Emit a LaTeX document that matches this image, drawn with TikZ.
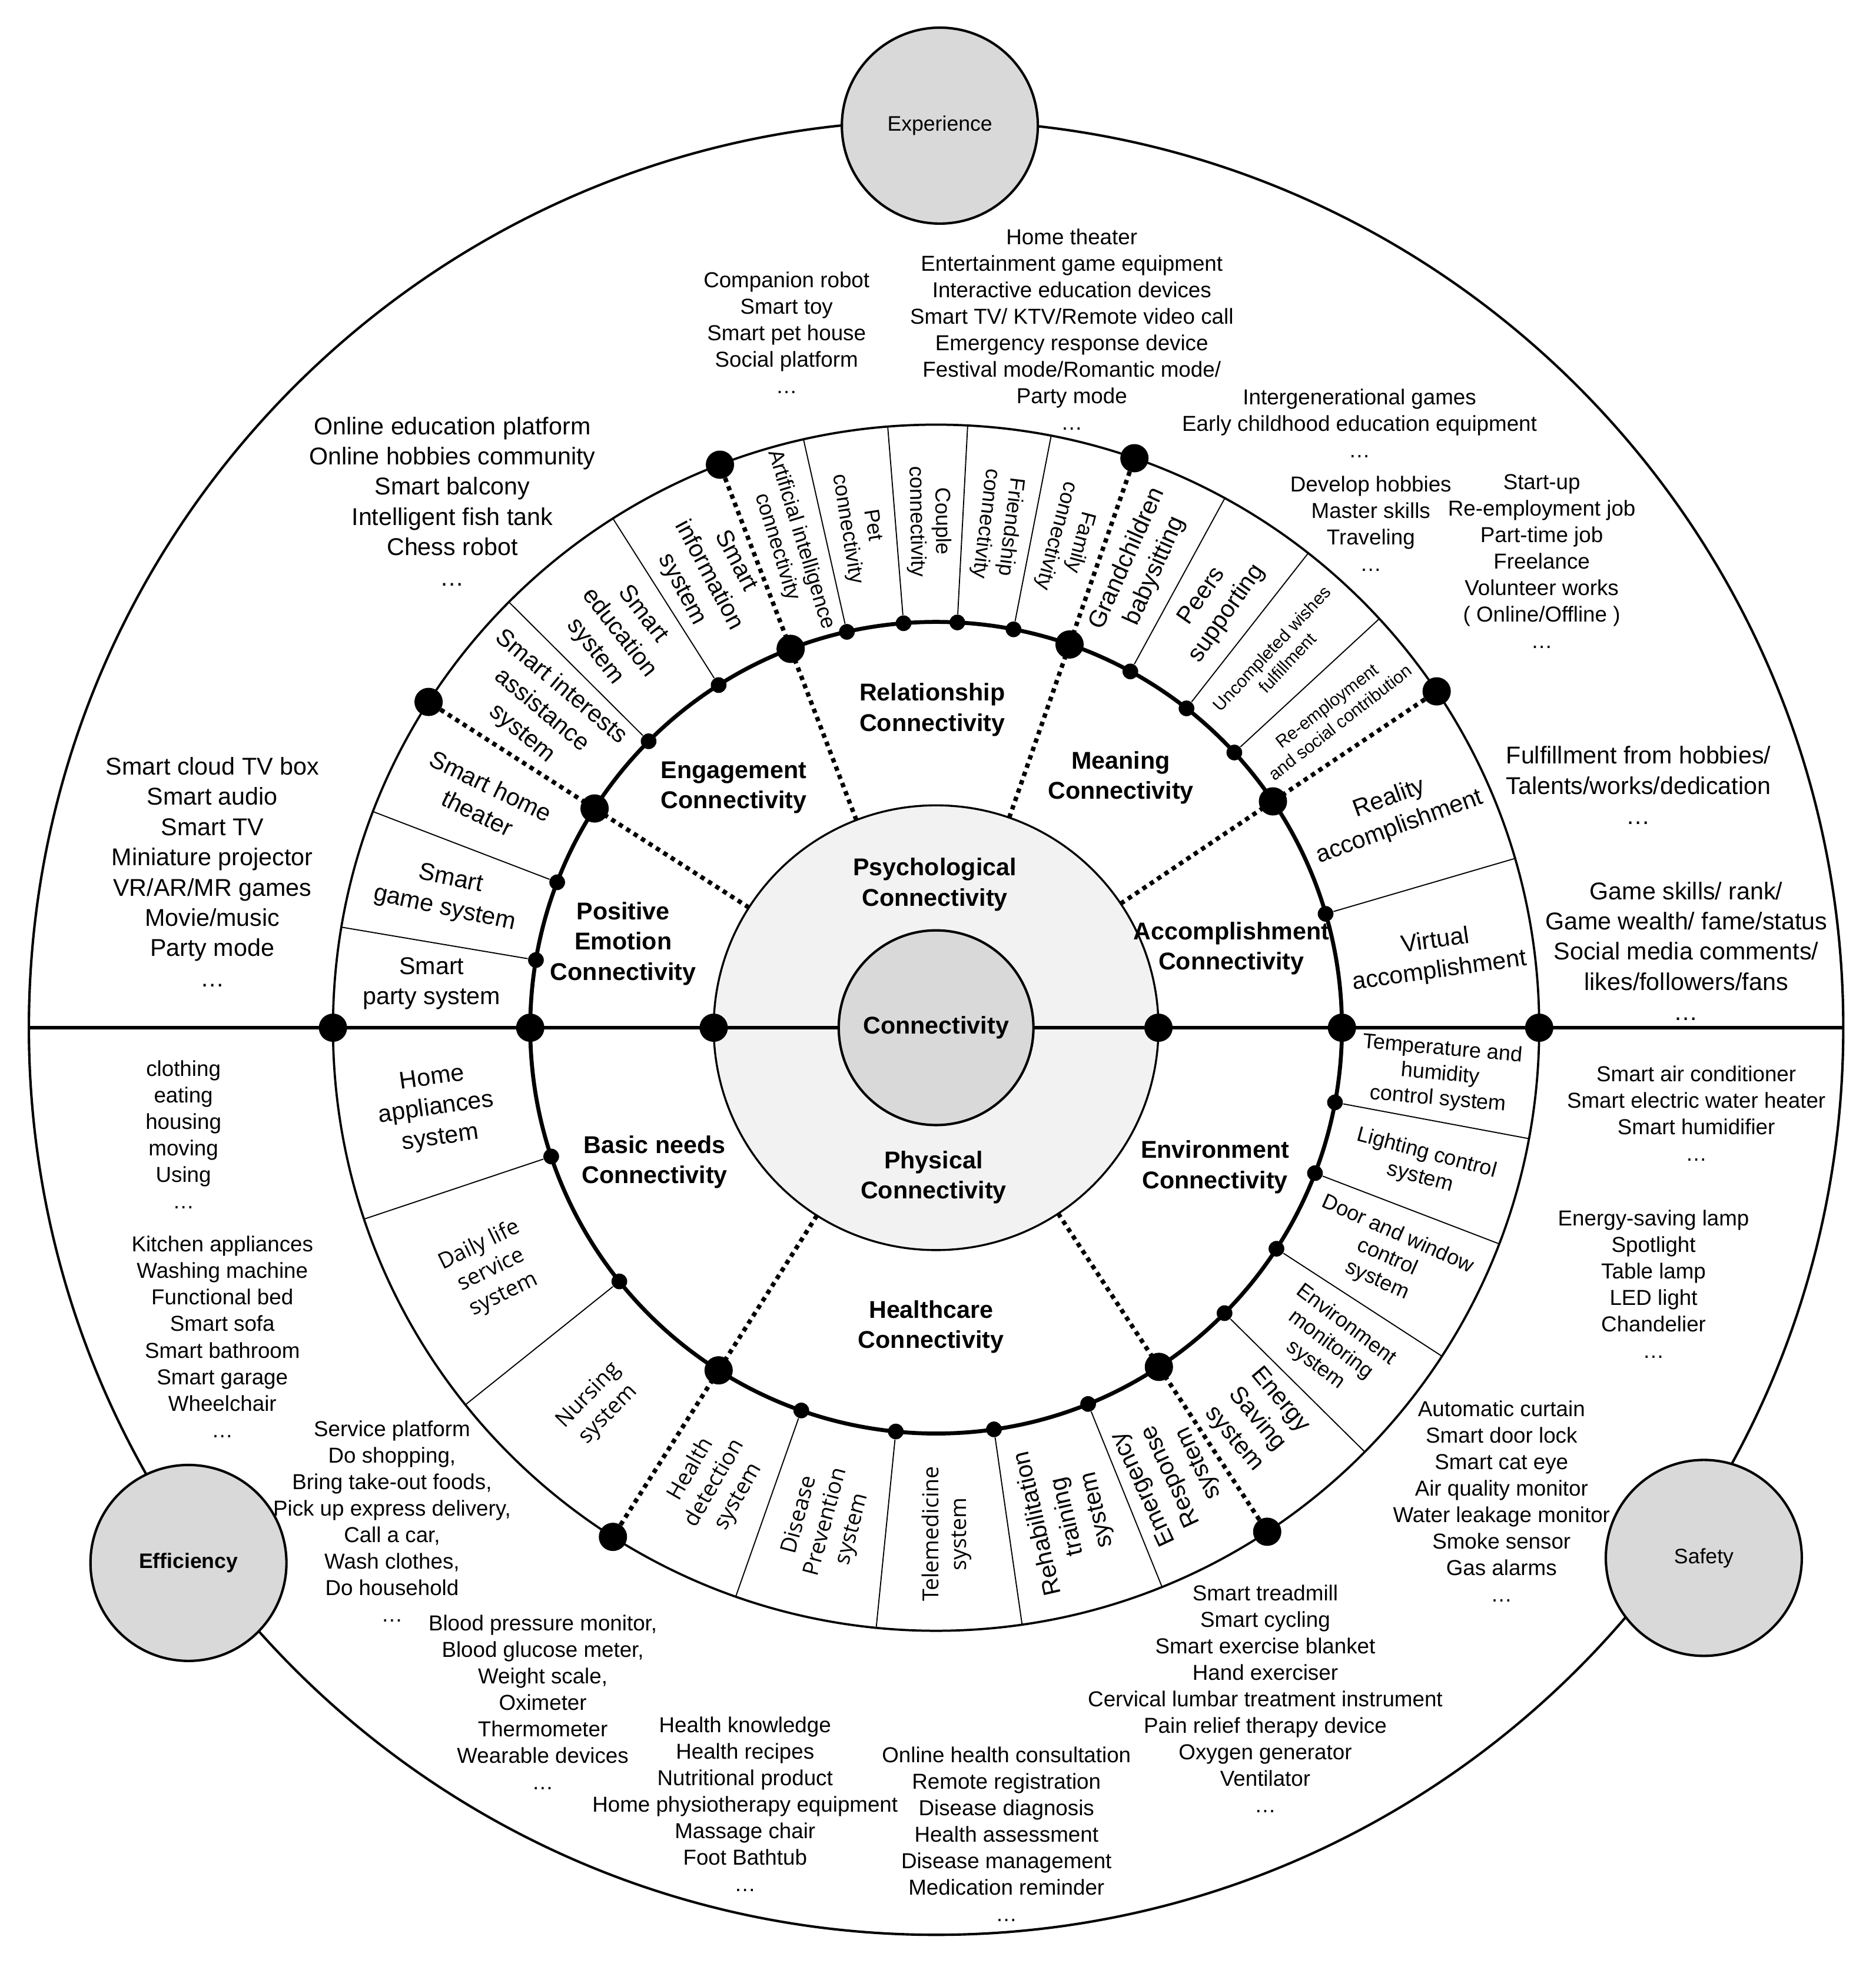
\documentclass[tikz,border=0pt]{standalone}
\usepackage{fontspec}
\setmainfont{Liberation Sans}
\newfontfamily\thinfamily{Open Sans}
\newcommand{\fbig}{\fontsize{11}{13.7}\selectfont}
\newcommand{\fsmall}{\fontsize{9.8}{12}\selectfont}
\newcommand{\fmid}{\fontsize{9.6}{11.4}\selectfont}
\newcommand{\ftiny}{\fontsize{8}{9.6}\selectfont}
\newcommand{\fthin}{\thinfamily\fontsize{10}{12.4}\selectfont}
\definecolor{coregray}{HTML}{D9D9D9}
\definecolor{psygray}{HTML}{F2F2F2}

\begin{document}
\begin{tikzpicture}[x=0.02cm, y=0.02cm,
	bigdot/.style={circle, fill=black, inner sep=0pt, minimum size=0.45cm},
	smalldot/.style={circle, fill=black, inner sep=0pt, minimum size=0.25cm},
	dotline/.style={line width=2pt, dash pattern=on 2pt off 2pt},
	sepline/.style={line width=0.5pt},
	band/.style={align=center, inner sep=0pt},
	list/.style={align=center, inner sep=0pt, font=\fsmall},
	biglist/.style={align=center, inner sep=0pt, font=\fbig},
	hub/.style={align=center, inner sep=0pt, font=\fbig\bfseries},
	pillar/.style={circle, draw, line width=1.1pt, fill=coregray,
		minimum size=3.12cm, font=\fontsize{9.5}{11}\selectfont}]
\useasboundingbox (-745,-750) rectangle (748,818);

% Outer circle
\draw[line width=1.1pt] (0,0) circle[radius=722];

% Psychological / Physical disk
\draw[line width=0.9pt, fill=psygray] (0,0) circle[radius=177];

% System band and connectivity ring
\draw[line width=1pt] (0,0) circle[radius=480];
\draw[line width=1.8pt] (0,0) circle[radius=323];

% Separators between systems
\foreach \a [count=\i] in {170.4,159,135.1,122.4,102.7,94.6,87,79,61.4,51.9,42.7,16.3,
	198.5,218.7,250.6,264.3,278.2,292,315.3,327,339,349.4}
{
	\node[smalldot] (sep-\i) at (\a:323) {};
	\coordinate (sepo-\i) at (\a:480);
	\draw[sepline] (sep-\i) -- (sepo-\i);
}

% Dotted division lines
\foreach \a [count=\i] in {147.3,111,70.8,33.9,237.6,303.3}
{
	\coordinate (div-\i-in) at (\a:177);
	\coordinate (div-\i-out) at (\a:480);
	\draw[dotline] (div-\i-in) -- (div-\i-out);
}

% Horizontal axis
\coordinate (axis-w) at (180:722);
\coordinate (axis-e) at (0:722);
\draw[line width=1.4pt] (axis-w) -- (axis-e);

% Core
\node[circle, draw, line width=1.1pt, fill=coregray, minimum size=3.1cm,
	font=\fbig\bfseries] (core) at (0,0) {Connectivity};

% Big dots
\foreach \a [count=\i] in {147.3,111,70.8,33.9,237.6,303.3}
{
	\node[bigdot] (ring-\i) at (\a:323) {};
	\node[bigdot] (rim-\i) at (\a:480) {};
}
\foreach \a in {0,180}
{
	\foreach \r in {177,323,480}
	{
		\node[bigdot] (axis-\a-\r) at (\a:\r) {};
	}
}

% Systems in the band
\foreach \a/\r/\f/\t [count=\i] in {
	175.0/0/\fbig/{Smart\\party system},
	164.7/-12/\fbig/{Smart\\game system},
	153.2/-26/\fbig/{Smart home\\theater},
	141.2/-40/\fbig/{Smart interests\\assistance\\system},
	128.8/-52/\fbig/{Smart\\education\\system},
	116.7/-62/\fbig/{Smart\\information\\system},
	106.9/-73/\fmid/{Artificial intelligence\\connectivity},
	98.7/-81/\fmid/{Pet\\connectivity},
	90.8/-89/\fmid/{Couple\\connectivity},
	83/-97/\fmid/{Friendship\\connectivity},
	74.9/-105/\fmid/{Family\\connectivity},
	66.1/66/\fbig/{Grandchildren\\babysitting},
	56.6/55/\fbig/{Peers\\supporting},
	47.3/47/\ftiny/{Uncompleted wishes\\fulfillment},
	38.3/38/\ftiny/{Re-employment\\and social contribution},
	25.1/20/\fbig/{Reality\\accomplishment},
	8.1/8/\fbig/{Virtual\\accomplishment},
	189.2/8/\fbig/{Home\\appliances\\system},
	208.6/26/\fthin/{Daily life\\service\\system},
	228.2/46/\fthin/{Nursing\\system},
	244.1/60/\fthin/{Health\\detection\\system},
	257.5/75/\fthin/{Disease\\Prevention\\system},
	271.2/90/\fthin/{Telemedicine\\system},
	285.1/103/\fbig/{Rehabilitation\\training\\system},
	297.7/115/\fbig/{Emergency\\Response\\system},
	309.3/-50/\fbig/{Energy\\Saving\\system},
	321.2/-37/\fmid/{Environment\\monitoring\\system},
	333/-24/\fmid/{Door and window\\control\\system},
	344.2/-15/\fmid/{Lighting control\\system},
	354.7/-5/\fmid/{Temperature and\\humidity\\control system}}
{
	\node[band, font=\f, rotate=\r] (sys-\i) at (\a:403) {\t};
}

% Connectivity labels
\node[hub] (psy) at (-1,114) {Psychological\\Connectivity};
\node[hub] (phy) at (-2,-119) {Physical\\Connectivity};
\node[hub] (posemo) at (-249,67) {Positive\\Emotion\\Connectivity};
\node[hub] (engage) at (-161,191) {Engagement\\Connectivity};
\node[hub] (relation) at (-3,253) {Relationship\\Connectivity};
\node[hub] (meaning) at (147,199) {Meaning\\Connectivity};
\node[hub] (accomp) at (235,63) {Accomplishment\\Connectivity};
\node[hub] (basic) at (-224,-107) {Basic needs\\Connectivity};
\node[hub] (health) at (-4,-238) {Healthcare\\Connectivity};
\node[hub] (environ) at (222,-111) {Environment\\Connectivity};

% Pillars
\node[pillar] (experience) at (3,718) {Experience};
\node[pillar, font=\fontsize{9.5}{11}\selectfont\bfseries] (efficiency) at (-595,-426) {Efficiency};
\node[pillar] (safety) at (611,-422) {Safety};

% Device lists
\node[list] (lst-robot) at (-119,553) {Companion robot\\Smart toy\\Smart pet house\\Social platform\\…};
\node[list] (lst-theater) at (108,556) {Home theater\\Entertainment game equipment\\Interactive education devices\\Smart TV/ KTV/Remote video call\\Emergency response device\\Festival mode/Romantic mode/\\Party mode\\…};
\node[list] (lst-games) at (337,481) {Intergenerational games\\Early childhood education equipment\\…};
\node[list] (lst-hobby) at (346,401) {Develop hobbies\\Master skills\\Traveling\\…};
\node[list] (lst-job) at (482,371) {Start-up\\Re-employment job\\Part-time job\\Freelance\\Volunteer works\\( Online/Offline )\\…};
\node[biglist] (lst-fulfil) at (559,193) {Fulfillment from hobbies/\\Talents/works/dedication\\…};
\node[biglist] (lst-virtual) at (597,61) {Game skills/ rank/\\Game wealth/ fame/status\\Social media comments/\\likes/followers/fans\\…};
\node[biglist] (lst-online) at (-385,419) {Online education platform\\Online hobbies community\\Smart balcony\\Intelligent fish tank\\Chess robot\\…};
\node[biglist] (lst-media) at (-576,124) {Smart cloud TV box\\Smart audio\\Smart TV\\Miniature projector\\VR/AR/MR games\\Movie/music\\Party mode\\…};
\node[list] (lst-needs) at (-599,-85) {clothing\\eating\\housing\\moving\\Using\\…};
\node[list] (lst-home) at (-568,-246) {Kitchen appliances\\Washing machine\\Functional bed\\Smart sofa\\Smart bathroom\\Smart garage\\Wheelchair\\…};
\node[list] (lst-service) at (-433,-393) {Service platform\\Do shopping,\\Bring take-out foods,\\Pick up express delivery,\\Call a car,\\Wash clothes,\\Do household\\…};
\node[list] (lst-detect) at (-313,-537) {Blood pressure monitor,\\Blood glucose meter,\\Weight scale,\\Oximeter\\Thermometer\\Wearable devices\\…};
\node[list] (lst-prevent) at (-152,-618) {Health knowledge\\Health recipes\\Nutritional product\\Home physiotherapy equipment\\Massage chair\\Foot Bathtub\\…};
\node[list] (lst-tele) at (56,-642) {Online health consultation\\Remote registration\\Disease diagnosis\\Health assessment\\Disease management\\Medication reminder\\…};
\node[list] (lst-rehab) at (262,-534) {Smart treadmill\\Smart cycling\\Smart exercise blanket\\Hand exerciser\\Cervical lumbar treatment instrument\\Pain relief therapy device\\Oxygen generator\\Ventilator\\…};
\node[list] (lst-safe) at (450,-377) {Automatic curtain\\Smart door lock\\Smart cat eye\\Air quality monitor\\Water leakage monitor\\Smoke sensor\\Gas alarms\\…};
\node[list] (lst-climate) at (605,-68) {Smart air conditioner\\Smart electric water heater\\Smart humidifier\\…};
\node[list] (lst-light) at (571,-204) {Energy-saving lamp\\Spotlight\\Table lamp\\LED light\\Chandelier\\…};
\end{tikzpicture}
\end{document}
